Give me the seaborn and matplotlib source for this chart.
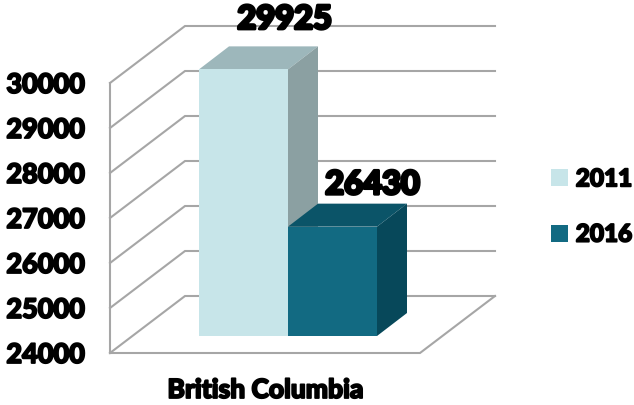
import matplotlib
matplotlib.use("Agg")
import matplotlib.pyplot as plt
import matplotlib.patheffects as pe
from matplotlib.transforms import Affine2D
import pandas as pd
import seaborn as sns

# Census values
regions = ["British Columbia"]
years = ["2011", "2016"]
values_2011 = [29925]
values_2016 = [26430]
y_ticks = [24000, 25000, 26000, 27000, 28000, 29000, 30000]

face_colors = ["#C7E5E9", "#126A82"]
top_colors = ["#9DB7BB", "#0B5468"]
side_colors = ["#8BA0A2", "#07485A"]
grid_color = "#A6A6A6"
font_name = "Lato"

W, H = 634, 405
sns.set_theme(style="white")
plt.rcParams["font.family"] = [font_name, "DejaVu Sans"]
plt.rcParams["font.weight"] = "black"

fig = plt.figure(figsize=(W / 100, H / 100), dpi=100)
# Axes rectangle is the front plane of the chart box
left, right, top, bottom = 110, 420, 83, 353
ax = fig.add_axes([left / W, 1 - bottom / H, (right - left) / W, (bottom - top) / H])

table = pd.DataFrame({
    "region": regions * 2,
    "year": years,
    "value": values_2011 + values_2016,
})
sns.barplot(data=table, x="region", y="value", hue="year", hue_order=years,
            palette=face_colors, saturation=1, width=0.8, gap=0, ax=ax)

px_per_x = 222.5
half_span = (right - left) / 2 / px_per_x
ax.set_xlim(-half_span, half_span)
ax.set_ylim(y_ticks[0], y_ticks[-1])
px_per_val = (bottom - top) / (y_ticks[-1] - y_ticks[0])


def depth_x(px):
    return px / px_per_x


def depth_v(px):
    return px / px_per_val


# Chart box: floor, side wall and back wall
wall_dx, wall_dy = 75, 57
line_kw = dict(color=grid_color, lw=1.5, clip_on=False, zorder=1,
               solid_capstyle="projecting", solid_joinstyle="miter")
x0, x1 = -half_span, half_span
bx0, bx1 = x0 + depth_x(wall_dx), x1 + depth_x(wall_dx)
for tick in y_ticks:
    back = tick + depth_v(wall_dy)
    ax.plot([x0, bx0, bx1], [tick, back, back], **line_kw)
floor_back = y_ticks[0] + depth_v(wall_dy)
ax.plot([x0, x0], [y_ticks[0], y_ticks[-1]], **line_kw)
ax.plot([x0, x1, bx1], [y_ticks[0], y_ticks[0], floor_back], **line_kw)

# Bars stand part of the way into the box, on the axis baseline
shift_px = (23, 17)
bar_shift = ax.transData + Affine2D().translate(*shift_px)
box_dx, box_dy = depth_x(30), depth_v(23)
heavy = [pe.withStroke(linewidth=1.3, foreground="black")]

label_offsets = [(41, 50), (40, 42)]
for i, container in enumerate(ax.containers):
    bar = container[0]
    val = bar.get_height()
    base = y_ticks[0]
    bar.set_y(base)
    bar.set_height(val - base)
    bar.set_transform(bar_shift)
    bar.set_clip_on(False)
    bar.set_linewidth(0)
    bar.set_zorder(2 + i * 2 + 0.5)
    xa, xb = bar.get_x(), bar.get_x() + bar.get_width()
    ax.fill([xa, xb, xb + box_dx, xa + box_dx],
            [val, val, val + box_dy, val + box_dy],
            color=top_colors[i], transform=bar_shift, clip_on=False, lw=0, zorder=2 + i * 2)
    ax.fill([xb, xb + box_dx, xb + box_dx, xb],
            [base, base + box_dy, val + box_dy, val],
            color=side_colors[i], transform=bar_shift, clip_on=False, lw=0, zorder=2 + i * 2)
    ox, oy = label_offsets[i]
    ax.annotate(f"{val:.0f}", xy=((xa + xb) / 2, val), xycoords=bar_shift,
                xytext=(ox * 0.72, oy * 0.72), textcoords="offset points",
                ha="center", va="center", fontsize=23.5, fontweight="black", color="black",
                path_effects=[pe.withStroke(linewidth=2.2, foreground="black")], zorder=10)

# Axis text
ax.set_xlabel("")
ax.set_ylabel("")
ax.set_yticks(y_ticks)
ax.tick_params(axis="y", length=0, pad=18, labelsize=19.5, labelcolor="black")
ax.tick_params(axis="x", length=0, pad=18, labelsize=19, labelcolor="black")
for lab in ax.get_yticklabels() + ax.get_xticklabels():
    lab.set_fontweight("black")
    lab.set_path_effects(heavy)
sns.despine(ax=ax, left=True, bottom=True)

# Legend to the right of the chart box
handles, labels = ax.get_legend_handles_labels()
legend = ax.legend(handles, labels, loc="center left",
                   bbox_to_anchor=(551 / W, 1 - 206.5 / H), bbox_transform=fig.transFigure,
                   frameon=False, labelspacing=1.33, handlelength=0.7,
                   handleheight=0.7, handletextpad=0.32, borderpad=0, borderaxespad=0,
                   labelcolor="black",
                   prop={"weight": "black", "size": 17.5, "family": font_name})
for text in legend.get_texts():
    text.set_path_effects(heavy)
for handle in legend.get_patches():
    handle.set_linewidth(0)

fig.savefig("out.png", dpi=100, facecolor="white")
